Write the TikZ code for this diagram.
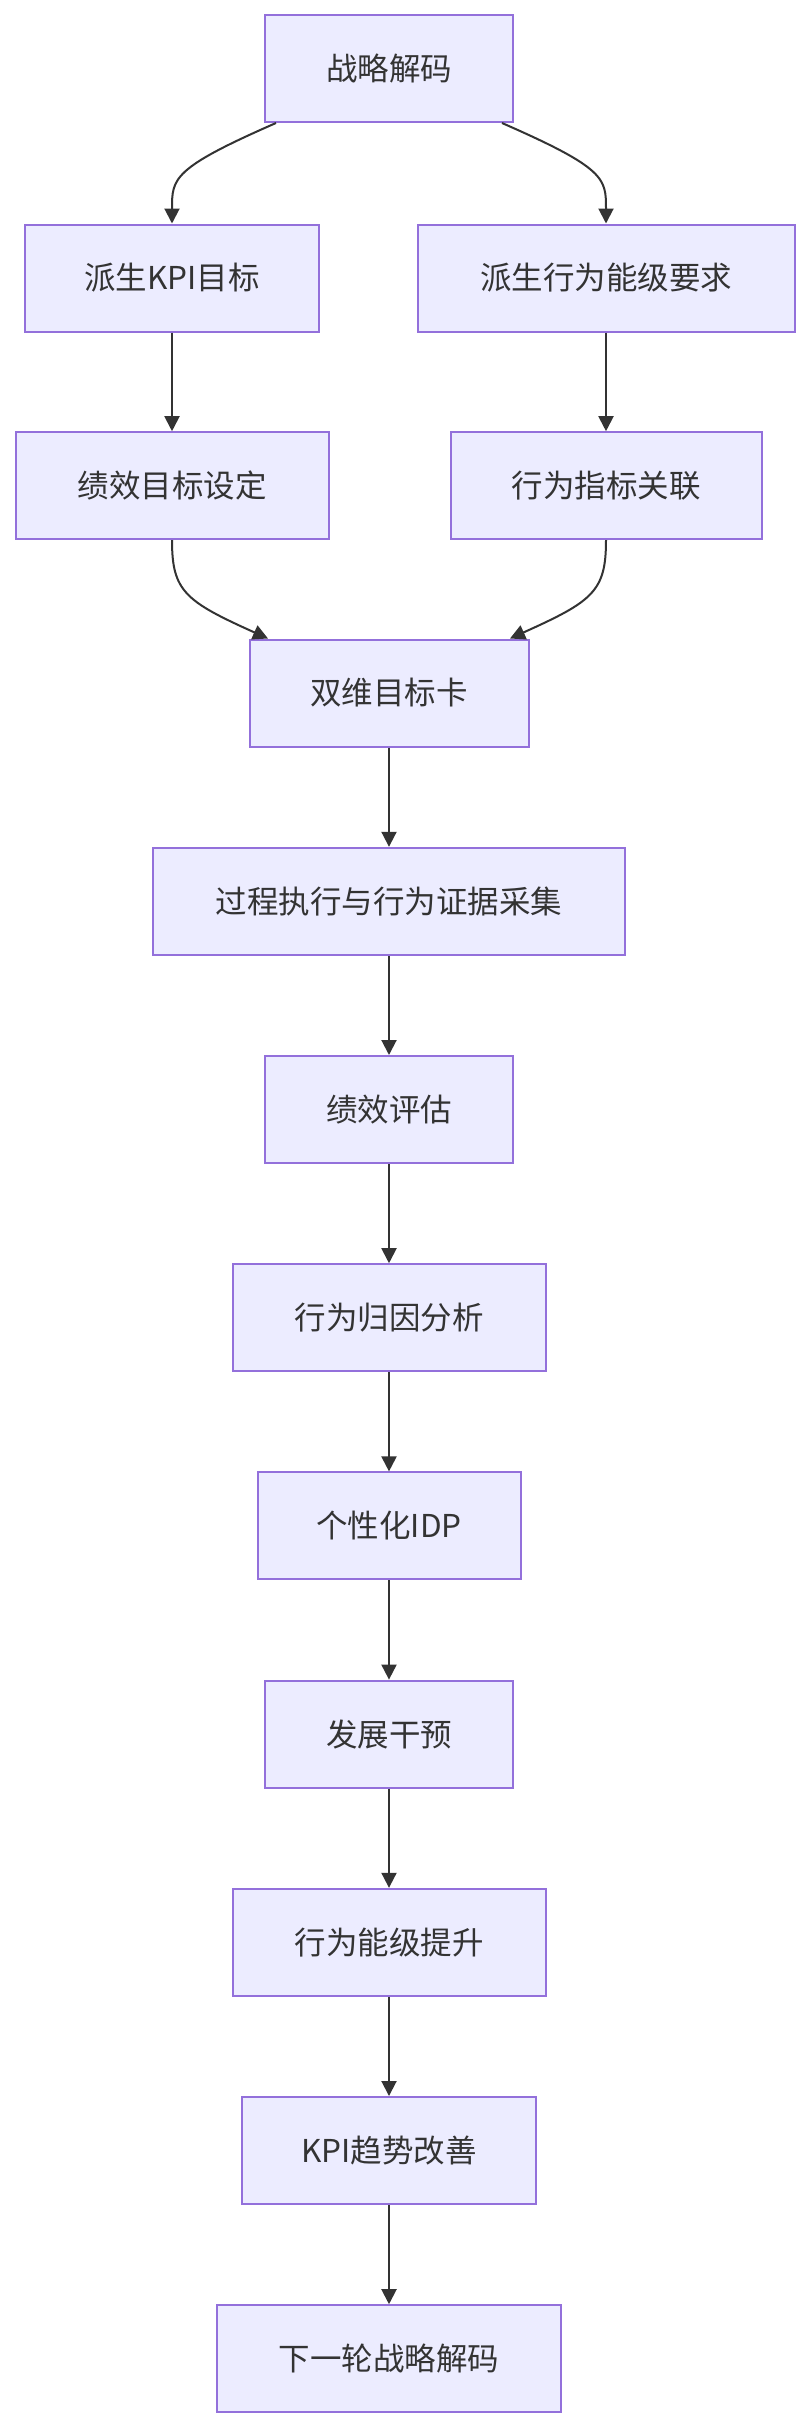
\documentclass[tikz,border=0pt]{standalone}
\usepackage{fontspec}
\setmainfont{Noto Sans CJK SC}
\usetikzlibrary{arrows.meta,calc}
\definecolor{nodefill}{HTML}{ECECFF}
\definecolor{nodeborder}{HTML}{9370DB}
\definecolor{edgecol}{HTML}{333333}
\begin{document}
\begin{tikzpicture}[x=1pt,y=-1pt,
  box/.style={draw=nodeborder, fill=nodefill, line width=2pt, minimum height=107pt,
    inner sep=0pt, text=edgecol, font=\fontsize{31.5}{38}\selectfont},
  arr/.style={draw=edgecol, line width=2pt, -{Triangle[length=15pt,width=15pt]}}]
\useasboundingbox (0,0) rectangle (810,2428);
\fill[white] (0,0) rectangle (810,2428);

\node[box, minimum width=248pt] (n0) at (389,68.5) {战略解码};
\node[box, minimum width=294pt] (n1a) at (172,278) {派生KPI目标};
\node[box, minimum width=377pt] (n1b) at (606,278) {派生行为能级要求};
\node[box, minimum width=313pt] (n2a) at (172,485.7) {绩效目标设定};
\node[box, minimum width=311pt] (n2b) at (606,485.7) {行为指标关联};
\node[box, minimum width=279pt] (n3) at (389,693) {双维目标卡};
\node[box, minimum width=472pt] (n4) at (389,901.3) {过程执行与行为证据采集};
\node[box, minimum width=248pt] (n5) at (389,1109.5) {绩效评估};
\node[box, minimum width=313pt] (n6) at (389,1317.7) {行为归因分析};
\node[box, minimum width=263pt] (n7) at (389,1525.9) {个性化IDP};
\node[box, minimum width=248pt] (n8) at (389,1734.1) {发展干预};
\node[box, minimum width=313pt] (n9) at (389,1942.3) {行为能级提升};
\node[box, minimum width=294pt] (n10) at (389,2150.5) {KPI趋势改善};
\node[box, minimum width=344pt] (n11) at (389,2358.7) {下一轮战略解码};

\draw[arr] ($(n0.south)+(-113,0)$) .. controls ($(n1a.north)+(0,-55)$) and ($(n1a.north)+(0,-45)$) .. (n1a.north);
\draw[arr] ($(n0.south)+(113,0)$) .. controls ($(n1b.north)+(0,-55)$) and ($(n1b.north)+(0,-45)$) .. (n1b.north);
\draw[arr] (n1a) -- (n2a);
\draw[arr] (n1b) -- (n2b);
\draw[arr] (n2a.south) .. controls ($(n2a.south)+(0,51)$) and ($(n2a.south)+(13,61)$) .. ($(n3.north)+(-121,0)$);
\draw[arr] (n2b.south) .. controls ($(n2b.south)+(0,51)$) and ($(n2b.south)+(-13,61)$) .. ($(n3.north)+(121,0)$);
\draw[arr] (n3) -- (n4);
\draw[arr] (n4) -- (n5);
\draw[arr] (n5) -- (n6);
\draw[arr] (n6) -- (n7);
\draw[arr] (n7) -- (n8);
\draw[arr] (n8) -- (n9);
\draw[arr] (n9) -- (n10);
\draw[arr] (n10) -- (n11);
\end{tikzpicture}
\end{document}
